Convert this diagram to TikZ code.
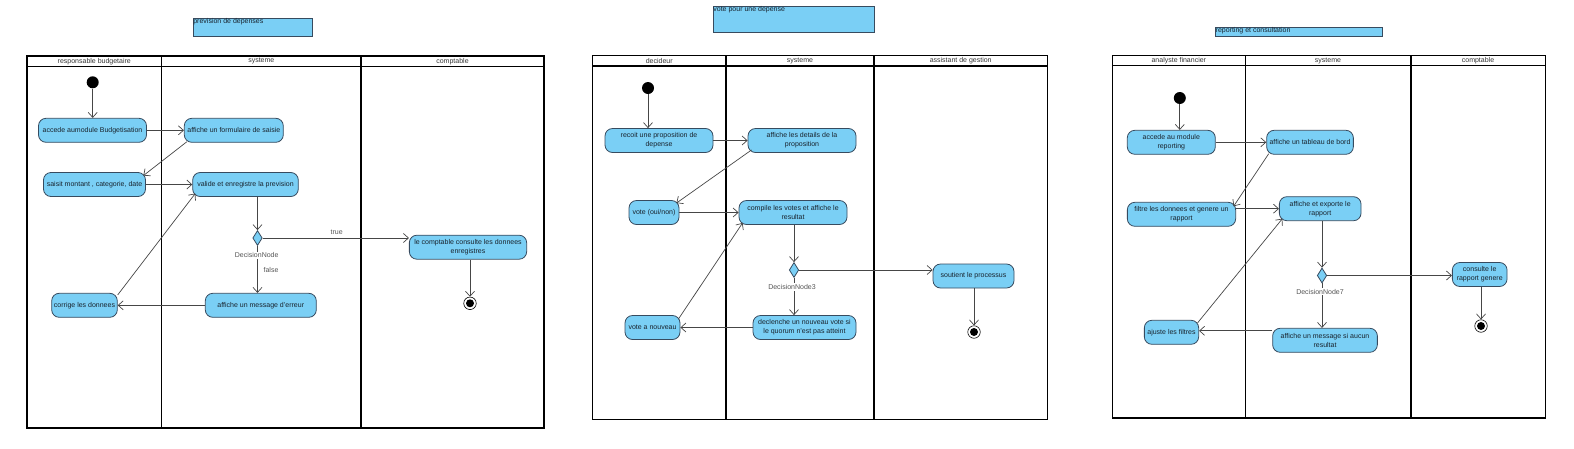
\documentclass[tikz,border=0pt]{standalone}
\usepackage{fontspec}
\setmainfont{Liberation Sans}
\usetikzlibrary{arrows.meta,shapes.geometric}
\definecolor{actfill}{RGB}{122,207,245}
\definecolor{actline}{RGB}{55,75,95}
\definecolor{edgec}{RGB}{70,70,70}
\definecolor{txtc}{RGB}{25,35,45}
\definecolor{lblc}{RGB}{85,85,85}
\begin{document}
\begin{tikzpicture}[x=1pt,y=-1pt,
  act/.style={draw=actline, fill=actfill, rounded corners=7.5pt, line width=0.8pt,
    font=\fontsize{7}{9}\selectfont, text=txtc, align=center, inner xsep=2pt, inner ysep=0pt,
    minimum height=24pt},
  titlebox/.style={draw=actline, fill=actfill, line width=0.8pt, inner sep=0pt},
  titletext/.style={font=\fontsize{7}{8}\selectfont, text=txtc, inner sep=0.6pt, anchor=north west},
  hdr/.style={font=\fontsize{7}{8}\selectfont, text=black!80, inner sep=0pt},
  initnode/.style={circle, fill=black, minimum size=12pt, inner sep=0pt},
  finalnode/.style={circle, draw=black, line width=0.6pt, fill=white, minimum size=12.5pt, inner sep=0pt},
  decnode/.style={diamond, draw=actline, fill=actfill, line width=0.8pt, minimum width=9.5pt, minimum height=15pt, inner sep=0pt},
  lbl/.style={font=\fontsize{7}{8}\selectfont, text=lblc, inner sep=1pt},
  flow/.style={draw=edgec, line width=0.7pt, -{Straight Barb[length=5pt,width=9pt]}},
  lane/.style={draw=black, line width=1.3pt},
  thicklane/.style={draw=black, line width=2.3pt}
]
\useasboundingbox (0,0) rectangle (1574,448);

% ================= Diagram 1 =================
\node[titlebox, minimum width=119.5pt, minimum height=18pt] (t1) at (252.7,27.3) {};
\node[titletext] (t1txt) at (t1.north west) {prevision de depenses};
\draw[lane] (27,56) rectangle (544,428);
\draw[lane] (27,66.5) -- (544,66.5);
\draw[lane] (161.7,56) -- (161.7,428);
\draw[lane] (361,56) -- (361,428);
\node[hdr] (h11) at (94.3,61.3) {responsable budgetaire};
\node[hdr] (h12) at (261.3,61.3) {systeme};
\node[hdr] (h13) at (452.5,61.3) {comptable};

\node[initnode] (i1) at (92.7,82.3) {};
\node[act, minimum width=108pt] (a1) at (92.5,130.3) {accede aumodule Budgetisation};
\node[act, minimum width=99pt] (b1) at (233.8,130.3) {affiche un formulaire de saisie};
\node[act, minimum width=102pt] (c1) at (94.5,184.5) {saisit montant , categorie, date};
\node[act, minimum width=105.6pt] (d1) at (245.5,184.5) {valide et enregistre la prevision};
\node[decnode] (dec1) at (257.5,238) {};
\node[act, minimum width=117.3pt] (e1) at (468,247.2) {le comptable consulte les donnees\\enregistres};
\node[finalnode] (f1) at (470,303.3) {};
\fill[black] (f1) circle (4pt);
\node[act, minimum width=111pt] (g1) at (260.8,305.3) {affiche un message d'erreur};
\node[act, minimum width=65.6pt] (h1) at (84.5,305.3) {corrige les donnees};

\draw[flow] (i1) -- (i1 |- a1.north);
\draw[flow] (a1.east) -- (b1.west);
\draw[flow] ([xshift=3pt,yshift=1pt]b1.south west) -- ([xshift=-2.5pt,yshift=-3.5pt]c1.north east);
\draw[flow] (c1.east) -- (d1.west);
\draw[flow] (d1.south -| dec1) -- (dec1.north);
\draw[flow] (dec1.east) -- (dec1.east -| e1.west);
\draw[flow] (dec1.south) -- (dec1.south |- g1.north);
\draw[flow] (g1.west |- h1.east) -- (h1.east);
\draw[flow] ([yshift=-2pt]h1.north east) -- ([xshift=3pt,yshift=3.4pt]d1.south west);
\draw[flow] (e1.south -| f1) -- (f1.north);
\node[lbl] (tr1) at (336.7,232.7) {true};
\node[lbl, fill=white] (dn1) at (256.7,255.3) {DecisionNode};
\node[lbl] (fa1) at (271,269.7) {false};

% ================= Diagram 2 =================
\node[titlebox, minimum width=161pt, minimum height=26pt] (t2) at (793.5,19) {};
\node[titletext] (t2txt) at (t2.north west) {vote pour une depense};
\draw[lane] (592.3,55.3) rectangle (1047.3,419.3);
\draw[lane] (592.3,66) -- (1047.3,66);
\draw[thicklane] (726,55.3) -- (726,419.3);
\draw[lane] (874,55.3) -- (874,419.3);
\node[hdr] (h21) at (659.2,60.7) {decideur};
\node[hdr] (h22) at (800,60.7) {systeme};
\node[hdr] (h23) at (960.7,60.7) {assistant de gestion};

\node[initnode] (i2) at (648,88) {};
\node[act, minimum width=108pt] (a2) at (659,140.5) {recoit une proposition de\\depense};
\node[act, minimum width=108pt] (b2) at (802,140.5) {affiche les details de la\\proposition};
\node[act, minimum width=50pt] (c2) at (654,212.5) {vote (oui/non)};
\node[act, minimum width=108pt] (d2) at (793,212.5) {compile les votes et affiche le\\resultat};
\node[decnode] (dec2) at (794,270) {};
\node[act, minimum width=81pt] (e2) at (973.5,276) {soutient le processus};
\node[finalnode] (f2) at (974,332) {};
\fill[black] (f2) circle (4pt);
\node[act, minimum width=103pt] (g2) at (804.5,327.5) {declenche un nouveau vote si\\le quorum n'est pas atteint};
\node[act, minimum width=55pt] (h2) at (652.5,327.5) {vote a nouveau};

\draw[flow] (i2) -- (i2 |- a2.north);
\draw[flow] (a2.east) -- (b2.west);
\draw[flow] ([xshift=4pt,yshift=3pt]b2.south west) -- ([xshift=-3pt,yshift=-3pt]c2.north east);
\draw[flow] (c2.east) -- (d2.west);
\draw[flow] (d2.south -| dec2) -- (dec2.north);
\draw[flow] (dec2.east) -- (dec2.east -| e2.west);
\draw[flow] (dec2.south) -- (dec2.south |- g2.north);
\draw[flow] (g2.west) -- (h2.east);
\draw[flow] ([xshift=-2pt,yshift=-4pt]h2.north east) -- ([xshift=4pt,yshift=2pt]d2.south west);
\draw[flow] (e2.south -| f2) -- (f2.north);
\node[lbl, fill=white] (dn2) at (792,287) {DecisionNode3};

% ================= Diagram 3 =================
\node[titlebox, minimum width=167.4pt, minimum height=9pt] (t3) at (1299,31.8) {};
\node[titletext] (t3txt) at (t3.north west) {reporting et consultation};
\draw[lane] (1112.3,55.3) rectangle (1545.3,418);
\draw[lane] (1112.3,65.5) -- (1545.3,65.5);
\draw[lane] (1245.3,55.3) -- (1245.3,418);
\draw[thicklane] (1410.7,55.3) -- (1410.7,418);
\node[hdr] (h31) at (1178.8,60.5) {analyste financier};
\node[hdr] (h32) at (1328,60.5) {systeme};
\node[hdr] (h33) at (1478,60.5) {comptable};

\node[initnode] (i3) at (1179.8,98) {};
\node[act, minimum width=88pt] (a3) at (1171.3,142.3) {accede au module\\reporting};
\node[act, minimum width=86.7pt] (b3) at (1310,142.3) {affiche un tableau de bord};
\node[act, minimum width=108.3pt] (c3) at (1181.5,214.3) {filtre les donnees et genere un\\rapport};
\node[act, minimum width=81.7pt] (d3) at (1320.2,208.7) {affiche et exporte le\\rapport};
\node[decnode] (dec3) at (1322,275.5) {};
\node[act, minimum width=54.7pt] (e3) at (1479.7,274.5) {consulte le\\rapport genere};
\node[finalnode] (f3) at (1481,326) {};
\fill[black] (f3) circle (4pt);
\node[act, minimum width=104.7pt] (g3) at (1325,340.3) {affiche un message si aucun\\resultat};
\node[act, minimum width=54.3pt] (h3) at (1171.5,332.3) {ajuste les filtres};

\draw[flow] (i3) -- (i3 |- a3.north);
\draw[flow] (a3.east) -- (b3.west);
\draw[flow] ([xshift=2.5pt,yshift=1pt]b3.south west) -- ([xshift=-2.5pt,yshift=-4.4pt]c3.north east);
\draw[flow] (c3.east |- d3.west) -- (d3.west);
\draw[flow] (d3.south -| dec3) -- (dec3.north);
\draw[flow] (dec3.east) -- (dec3.east -| e3.west);
\draw[flow] (dec3.south) -- (dec3.south |- g3.north);
\draw[flow] ([yshift=1.5pt]g3.west |- h3.east) -- ([yshift=1.5pt]h3.east);
\draw[flow] ([xshift=-1.5pt,yshift=-3pt]h3.north east) -- ([xshift=3.4pt,yshift=2.4pt]d3.south west);
\draw[flow] (e3.south -| f3) -- (f3.north);
\node[lbl, fill=white] (dn3) at (1320,291.7) {DecisionNode7};
\end{tikzpicture}
\end{document}
